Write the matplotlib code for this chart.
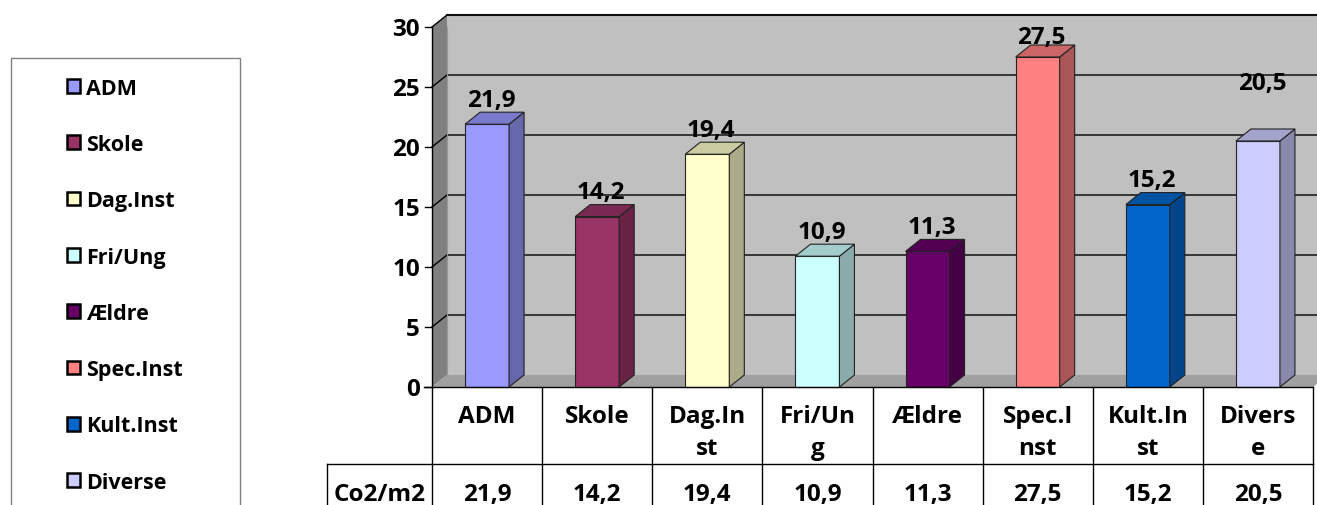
import matplotlib.pyplot as plt
from matplotlib.patches import Polygon, Patch, Rectangle
import numpy as np

# data
categories = ["ADM", "Skole", "Dag.Inst", "Fri/Ung", "Ældre", "Spec.Inst", "Kult.Inst", "Diverse"]
table_labels = ["ADM", "Skole", "Dag.In\nst", "Fri/Un\ng", "Ældre", "Spec.I\nnst", "Kult.In\nst", "Divers\ne"]
values = [21.9, 14.2, 19.4, 10.9, 11.3, 27.5, 15.2, 20.5]
value_text = ["21,9", "14,2", "19,4", "10,9", "11,3", "27,5", "15,2", "20,5"]
row_label = "Co2/m2"
colors = ["#9999FF", "#993366", "#FFFFCC", "#CCFFFF", "#660066", "#FF8080", "#0066CC", "#CCCCFF"]
yticks = [0, 5, 10, 15, 20, 25, 30]
# extra lift (value units) of the data labels, as excel placed them
label_lift = [0, 0, 0, 0, 0, -0.4, 0, 2.8]

plt.rcParams['font.family'] = ['Open Sans', 'DejaVu Sans']
plt.rcParams['font.weight'] = 'bold'
FS = 17.5

W, H = 1317, 506
fig = plt.figure(figsize=(W / 100, H / 100), dpi=100)

# front plane of the plot area in pixels
x0, x1 = 432, 1313
y0, y1 = 388, 28
ax = fig.add_axes([x0 / W, 1 - y0 / H, (x1 - x0) / W, (y0 - y1) / H])
n = len(values)
ax.set_xlim(0, n)
ax.set_ylim(0, 30)
ax.axis("off")

px_x = n / (x1 - x0)      # data units per pixel
px_y = 30 / (y0 - y1)
dx = 15 * px_x            # depth offset
dy = 12 * px_y

def poly(pts, fc, ec="none", lw=0.8, z=1):
    ax.add_patch(Polygon(pts, closed=True, facecolor=fc, edgecolor=ec, lw=lw, zorder=z, clip_on=False))

# walls
poly([(dx, dy), (n + dx + 1, dy), (n + dx + 1, 30 + dy), (dx, 30 + dy)], "#C0C0C0", z=0)
poly([(0, 0), (dx, dy), (dx, 30 + dy), (0, 30)], "#808080", z=0)
poly([(0, 0), (n, 0), (n + dx, dy), (dx, dy)], "#A0A0A0", z=0)
ax.plot([dx, n + dx + 1], [30 + dy, 30 + dy], color="#333333", lw=1.5, clip_on=False, zorder=0.5)
for t in yticks[1:]:
    ax.plot([0, dx, n + dx + 1], [t, t + dy, t + dy], color="black", lw=1, clip_on=False, zorder=0.5)
ax.plot([dx, dx], [dy, 30 + dy], color="#999999", lw=0.8, zorder=0.5)

# y axis
ax.plot([0, 0], [0, 30], color="black", lw=1, clip_on=False, zorder=3)
ax.plot([-8 * px_x, n], [0, 0], color="black", lw=1, clip_on=False, zorder=3)
for t in yticks:
    ax.plot([-7 * px_x, 0], [t, t], color="black", lw=1, clip_on=False, zorder=3)
    ax.text(-12 * px_x, t + 0.1, str(t), ha="right", va="center_baseline", fontsize=FS, fontweight="bold")

def shade(c, f):
    rgb = np.array(plt.matplotlib.colors.to_rgb(c))
    return tuple(rgb * f)

# bars
bw = 44 * px_x
for i, v in enumerate(values):
    xc = i + 0.5
    l, r = xc - bw / 2, xc + bw / 2
    c = colors[i]
    poly([(l, 0), (r, 0), (r, v), (l, v)], c, ec="#222222", z=2)
    poly([(r, 0), (r + dx, dy), (r + dx, v + dy), (r, v)], shade(c, 0.67), ec="#222222", z=2)
    poly([(l, v), (r, v), (r + dx, v + dy), (l + dx, v + dy)], shade(c, 0.8), ec="#222222", z=2)
    ax.text(xc + 4 * px_x, v + dy + 1.3 + label_lift[i], value_text[i], ha="center",
            va="center_baseline", fontsize=FS, fontweight="bold", zorder=4)

# data table
hdr_bot = -(465 - y0) * px_y
row_bot = -(510 - y0) * px_y
rl = -(x0 - 327) * px_x
for i in range(n + 1):
    ax.plot([i, i], [0, row_bot], color="black", lw=1, clip_on=False)
ax.plot([rl, n], [hdr_bot, hdr_bot], color="black", lw=1, clip_on=False)
ax.plot([rl, rl], [hdr_bot, row_bot], color="black", lw=1, clip_on=False)
for i in range(n):
    for k, part in enumerate(table_labels[i].split("\n")):
        ax.text(i + 0.5, -(414 + 32 * k - y0) * px_y, part, ha="center", va="center_baseline",
                fontsize=FS, fontweight="bold")
    ax.text(i + 0.5, -(492 - y0) * px_y, value_text[i], ha="center", va="center_baseline",
            fontsize=FS, fontweight="bold")
ax.text(rl / 2, -(492 - y0) * px_y, row_label, ha="center", va="center_baseline", fontsize=FS,
        fontweight="bold")

# legend
fig.patches.append(Rectangle((11 / W, -0.05), (240 - 11) / W, 1 - 59 / H + 0.05,
                             transform=fig.transFigure, facecolor="white", edgecolor="#808080", lw=1))
handles = [Patch(facecolor=c, edgecolor="black", lw=1.8) for c in colors]
fig.legend(handles, categories, loc="upper left", bbox_to_anchor=(58 / W, 1 - 70 / H), frameon=False,
           borderaxespad=0, handlelength=0.6, handleheight=0.6, handletextpad=0.3, labelspacing=1.64,
           prop={"weight": "bold", "size": 15.5})

fig.savefig("out.png", dpi=100)
